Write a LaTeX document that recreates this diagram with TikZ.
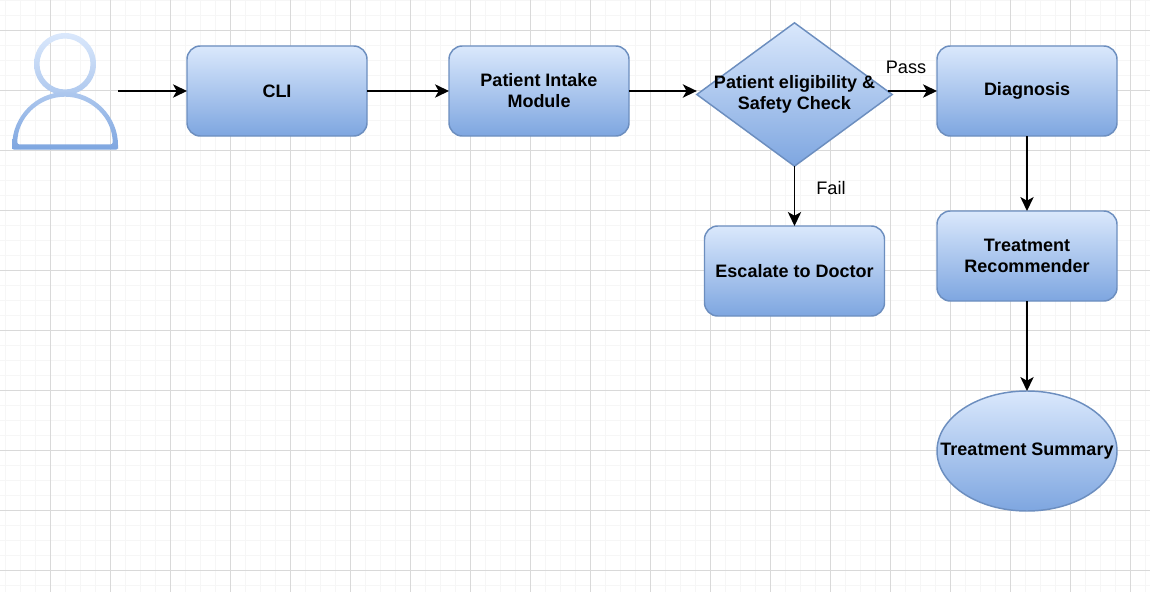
\documentclass[tikz,border=0pt]{standalone}
\usepackage{fontspec}
\setmainfont{Liberation Sans}
\usetikzlibrary{arrows.meta,shapes.geometric}

\definecolor{gridmajor}{HTML}{D9D9D9}
\definecolor{gridminor}{HTML}{F6F6F6}
\definecolor{flowtop}{HTML}{DAE8FC}
\definecolor{flowbottom}{HTML}{7EA6E0}
\definecolor{flowedge}{HTML}{6C8EBF}
\definecolor{usermid}{HTML}{AEC8EE}

\newcommand{\nowide}[1]{\makebox[0pt]{#1}}

\tikzset{
  flowfill/.style={draw=flowedge,line width=1.1pt,top color=flowtop,bottom color=flowbottom,
    inner sep=0pt,outer sep=0pt,font=\fontsize{13.5}{15.7}\selectfont\bfseries,align=center},
  procbox/.style={flowfill,rectangle,rounded corners=10pt,minimum width=135pt,minimum height=67.5pt},
  checkbox/.style={flowfill,diamond,minimum width=146.5pt,minimum height=107.5pt},
  endbox/.style={flowfill,ellipse,minimum width=135pt,minimum height=90pt},
  flowarrow/.style={line width=1.05pt,-{Stealth[length=10.5pt,width=10pt,inset=2.8pt]}},
  flowlabel/.style={font=\fontsize{13.6}{15}\selectfont,inner sep=0pt}
}

\begin{document}
\begin{tikzpicture}[x=0.75pt,y=-0.75pt]

\useasboundingbox (0,0) rectangle (1150,592);
\fill[white] (0,0) rectangle (1150,592);

% grid
\foreach \gx in {5.5,20.5,...,1150} \draw[gridminor,line width=0.75pt] (\gx,0) -- (\gx,592);
\foreach \gy in {0.5,15.5,...,592} \draw[gridminor,line width=0.75pt] (0,\gy) -- (1150,\gy);
\foreach \gx in {50.5,110.5,...,1150} \draw[gridmajor,line width=0.75pt] (\gx,0) -- (\gx,592);
\foreach \gy in {30.5,90.5,...,592} \draw[gridmajor,line width=0.75pt] (0,\gy) -- (1150,\gy);

% user
\shade[even odd rule,top color=flowtop,bottom color=usermid]
  (65,64) circle[radius=31] (65,64) circle[radius=25.5];
\shade[even odd rule,top color=usermid,bottom color=flowbottom,rounded corners=1.5pt]
  (12.3,149.7) -- (12.3,147) arc[start angle=180,end angle=360,x radius=52.85,y radius=55] -- (118,149.7) -- cycle
  (17.3,144.4) arc[start angle=180,end angle=360,x radius=47.7,y radius=47.7] -- cycle;
\coordinate (user) at (118,91);

\node[procbox] (cli) at (277,91) {CLI};
\node[procbox] (intake) at (539,91) {Patient Intake\\Module};
\node[checkbox] (check) at (794.5,94.5) {\nowide{Patient eligibility \&}\\[-0.3pt]\nowide{Safety Check}};
\node[procbox] (diagnosis) at (1027,91) {Diagnosis};
\node[procbox] (escalate) at (794.5,271) {Escalate to Doctor};
\node[procbox] (recommender) at (1027,256) {Treatment\\Recommender};
\node[endbox] (summary) at (1027,451) {\nowide{Treatment Summary}};

\draw[flowarrow] (user) -- (cli);
\draw[flowarrow] (cli) -- (intake);
\draw[flowarrow] (intake) -- (intake -| check.west);
\draw[flowarrow] ([xshift=-3.5pt]check.east |- diagnosis) -- (diagnosis);
\draw[flowarrow] (check) -- (escalate);
\draw[flowarrow] (diagnosis) -- (recommender);
\draw[flowarrow] (recommender) -- (summary);

\node[flowlabel] (pass) at (906,67.5) {Pass};
\node[flowlabel] (fail) at (831,188) {Fail};

\end{tikzpicture}
\end{document}
